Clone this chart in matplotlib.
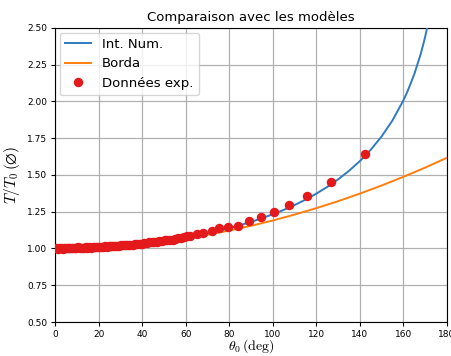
import matplotlib
matplotlib.use("Agg")
import matplotlib.pyplot as plt

# Model curves
num_theta = [0, 10, 20, 30, 40, 50, 60, 70, 80, 90, 100, 105, 110, 115, 120, 125, 130,
             135, 140, 145, 150, 155, 160, 162, 165, 168, 170, 172]
num_ratio = [1.0000, 1.0019, 1.0077, 1.0174, 1.0313, 1.0498, 1.0732, 1.1021, 1.1375,
             1.1803, 1.2322, 1.2622, 1.2953, 1.3320, 1.3729, 1.4185, 1.4698, 1.5280,
             1.5944, 1.6715, 1.7622, 1.8714, 2.0075, 2.0724, 2.1855, 2.3248, 2.4394, 2.5801]

borda_theta = [0, 10, 20, 30, 40, 50, 60, 70, 80, 90, 100, 110, 120, 130, 140, 150, 160, 170, 180]
borda_ratio = [1.0000, 1.0019, 1.0076, 1.0171, 1.0305, 1.0476, 1.0685, 1.0933, 1.1218,
               1.1542, 1.1904, 1.2304, 1.2742, 1.3217, 1.3732, 1.4284, 1.4874, 1.5502, 1.6169]

# Experimental data
exp_theta = [0.5, 1.2, 2.0, 2.7, 3.5, 4.3, 5.0, 5.8, 6.6, 7.4, 8.2, 9.0, 9.8, 10.6, 11.4,
             12.3, 13.1, 14.0, 14.8, 15.7, 16.5, 17.4, 18.3, 19.2, 20.1, 21.0, 21.9, 22.8,
             23.7, 24.7, 25.6, 26.6, 27.5, 28.5, 29.5, 30.5, 31.5, 32.5, 33.5, 34.6, 35.6,
             36.7, 37.7, 38.8, 39.9, 41.0, 42.1, 43.2, 44.4, 45.5, 46.7, 47.9, 49.1, 50.3,
             51.5, 52.8, 54.0, 55.3, 56.6, 58.0, 59.4, 60.8, 62.2,
             65.1, 68.0, 71.9, 75.4, 79.6, 84.2, 89.1, 94.4, 100.4, 107.6, 115.8, 126.9, 142.2]
exp_ratio = [1.003, 0.998, 1.004, 1.001, 0.999, 1.005, 1.002, 1.004, 1.000, 1.006, 1.003,
             1.005, 1.002, 1.007, 1.004, 1.006, 1.003, 1.008, 1.005, 1.009, 1.006, 1.010,
             1.008, 1.011, 1.009, 1.013, 1.011, 1.014, 1.012, 1.016, 1.014, 1.018, 1.016,
             1.020, 1.018, 1.022, 1.021, 1.025, 1.023, 1.027, 1.026, 1.030, 1.029, 1.033,
             1.032, 1.040, 1.038, 1.043, 1.041, 1.046, 1.045, 1.051, 1.050, 1.055, 1.055,
             1.060, 1.061, 1.066, 1.068, 1.073, 1.077, 1.083, 1.087,
             1.101, 1.107, 1.119, 1.137, 1.143, 1.155, 1.189, 1.212, 1.248, 1.294, 1.359,
             1.450, 1.645]

xticks = [0, 20, 40, 60, 80, 100, 120, 140, 160, 180]
yticks = [0.50, 0.75, 1.00, 1.25, 1.50, 1.75, 2.00, 2.25, 2.50]

plt.rcParams['mathtext.fontset'] = 'cm'

fig = plt.figure(figsize=(4.51, 3.56), dpi=100)
ax = fig.add_axes([0.122, 0.0955, 0.869, 0.826])

ax.plot(num_theta, num_ratio, color='#2f7bbf', lw=1.4, label='Int. Num.', zorder=3)
ax.plot(borda_theta, borda_ratio, color='#ff7f0e', lw=1.4, label='Borda', zorder=3)
ax.plot(exp_theta, exp_ratio, 'o', color='#e3191c', ms=5.8, label='Données exp.', zorder=4)

ax.set_xlim(0, 180)
ax.set_ylim(0.5, 2.5)
ax.set_xticks(xticks)
ax.set_yticks(yticks)
ax.set_yticklabels([f"{v:.2f}" for v in yticks])
ax.tick_params(labelsize=6.5, length=3, width=0.8, pad=2.5)
ax.grid(True, color='#b0b0b0', lw=0.9)
ax.set_axisbelow(True)

ax.set_title('Comparaison avec les modèles', fontsize=9.5, pad=5)
ax.set_xlabel(r'$\theta_0\,(\mathrm{deg})$', fontsize=10, labelpad=-1)
ax.set_ylabel(r'$T/T_0\,(\varnothing)$', fontsize=11, labelpad=4)

ax.legend(loc='upper left', fontsize=9.5, handlelength=2.0, borderaxespad=0.35,
          framealpha=0.8, edgecolor='#cccccc')

fig.savefig('out.png', dpi=100)
